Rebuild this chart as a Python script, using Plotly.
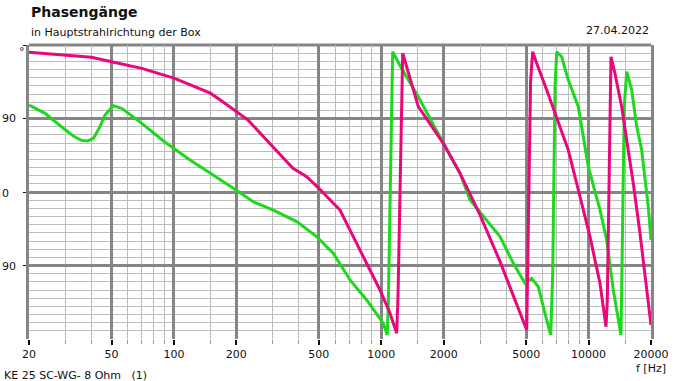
import plotly.graph_objects as go
import numpy as np

# ---- data ----
pink_f = [20, 30, 40, 50, 70, 100, 120, 150, 172, 200, 228, 300, 375, 437, 500,
          587, 632, 733, 850, 986, 1102, 1187,
          1204, 1231, 1245, 1269,
          1277, 1509, 1992, 2398, 2993, 3738, 4335, 5030,
          5080, 5150, 5250, 5376,
          5618, 6281, 7018, 7980, 9092, 10155, 11350, 12132,
          12310, 12446, 12586, 12684, 12824,
          13408, 14444, 15268, 16426, 17700, 19066, 20000]
pink_deg = [171, 167.7, 165, 159.5, 151.4, 139.5, 131, 121, 110.6, 98.3, 88, 55.5, 29, 18.8, 4.5,
            -13.8, -22, -54.7, -87.3, -120, -148.5, -173,
            -130, 0, 60, 170,
            167.7, 104.5, 59.6, 22.9, -28, -85, -128, -169,
            -100, -2, 135, 171.8,
            157.6, 124.9, 92, 51.4, -5.7, -54.7, -111.8, -165,
            -133, -60, 2, 104.4, 165.6,
            145, 104.4, 63.7, 10.6, -50.6, -120, -163]

green_f = [20, 23.9, 30, 33, 36, 38.5, 41, 44, 46.5, 51, 56, 70, 90, 100, 113, 120, 150, 167, 200,
           241, 300, 391, 453, 488, 566, 587, 707, 850, 1023, 1069,
           1081, 1093, 1102, 1123, 1135,
           1231, 1509, 1956, 2398, 2680, 2993, 3738, 4335, 4936, 5317, 5721, 6163, 6566,
           6714, 6759, 6835, 6888, 7018,
           7417, 7980, 8920, 9966, 11350, 12224, 13158, 14331,
           14444, 14700, 14864, 15268,
           16140, 17060, 18033, 19400, 20000]
green_deg = [106.5, 96.3, 75.9, 68, 63, 62.5, 66, 80, 94.3, 105.7, 102.5, 84.1, 61.6, 53, 43.2, 39, 22.9, 14.7, 2,
             -11.9, -22, -36.3, -48.6, -54.7, -71, -75, -107.7, -132.2, -160.8, -175,
             -140.4, -75, -1.6, 63.7, 171.8,
             155, 116.5, 63.7, 22.9, -9.8, -24.5, -54.7, -87.3, -111.8, -105.7, -116, -148.5, -175,
             -99.6, -18, 63.7, 129, 171.8,
             165.6, 137, 104.4, 31, -22, -58.8, -120, -175,
             -99.6, 22.9, 104.4, 147.3,
             125, 80.4, 51.4, -18, -58.8]

x_major = [20, 50, 100, 200, 500, 1000, 2000, 5000, 10000, 20000]
x_major_labels = ["20", "50", "100", "200", "500", "1000", "2000", "5000", "10000", "20000"]
x_minor = [30, 40, 60, 70, 80, 90, 150, 300, 400, 600, 700, 800, 900, 1500, 3000, 4000,
           6000, 7000, 8000, 9000, 15000]
y_major = [-90, 0, 90, 180]
y_minor = [v for v in range(-170, 180, 10) if v % 90 != 0]

title_text = "Phasengänge"
subtitle_text = "in Hauptstrahlrichtung der Box"
date_text = "27.04.2022"
footer_text = "KE 25 SC-WG- 8 Ohm   (1)"
xunit_text = "f [Hz]"

# ---- layout geometry ----
W, H = 694, 381
L, R, T, B = 29, 651, 45, 339
FONT = "DejaVu Sans"
GRID_DARK = "#858585"
GRID_LIGHT = "#bdbdbd"

def px(x):
    return (x - L) / (R - L)

def py(y):
    return (B - y) / (B - T)

fig = go.Figure()
fig.add_trace(go.Scatter(x=green_f, y=green_deg, mode="lines",
                         line=dict(color="#1ed81e", width=3), hoverinfo="skip"))
fig.add_trace(go.Scatter(x=pink_f, y=pink_deg, mode="lines",
                         line=dict(color="#e8087c", width=3), hoverinfo="skip"))

fig.update_layout(
    width=W, height=H,
    margin=dict(l=L, r=W - R, t=T, b=H - B, pad=0),
    paper_bgcolor="white", plot_bgcolor="white",
    showlegend=False,
    font=dict(family=FONT, size=11, color="#111111"),
    xaxis=dict(type="log", range=[np.log10(20), np.log10(20000)],
               tickmode="array", tickvals=x_major, ticktext=x_major_labels,
               ticks="outside", ticklen=5, tickwidth=2, tickcolor="#111111",
               showgrid=True, gridcolor=GRID_DARK, gridwidth=3,
               showline=False, zeroline=False,
               tickfont=dict(family=FONT, size=11, color="#111111"),
               minor=dict(tickmode="array", tickvals=x_minor, ticks="outside",
                          ticklen=4, tickwidth=1, tickcolor="#9a9a9a",
                          showgrid=True, gridcolor=GRID_LIGHT, gridwidth=1)),
    yaxis=dict(range=[-180, 180], tickmode="array", tickvals=y_major,
               showticklabels=False, ticks="outside", ticklen=3, tickwidth=1,
               tickcolor="#111111",
               showgrid=True, gridcolor=GRID_DARK, gridwidth=3,
               showline=True, linecolor=GRID_DARK, linewidth=3, mirror=True,
               zeroline=False,
               minor=dict(tickmode="array", tickvals=y_minor, ticks="",
                          showgrid=True, gridcolor=GRID_LIGHT, gridwidth=1)),
)

# top border
fig.add_shape(type="line", xref="paper", yref="paper", x0=0, x1=1, y0=1, y1=1,
              line=dict(color=GRID_DARK, width=3), layer="below")

ann = []
ann.append(dict(text="<b>" + title_text + "</b>", x=px(29), y=py(12), xanchor="left", yanchor="middle",
                font=dict(family=FONT, size=14, color="#111111")))
ann.append(dict(text=subtitle_text, x=px(29), y=py(32), xanchor="left", yanchor="middle",
                font=dict(family=FONT, size=11, color="#111111")))
ann.append(dict(text=date_text, x=px(651), y=py(31), xanchor="right", yanchor="middle",
                font=dict(family=FONT, size=11, color="#111111")))
ann.append(dict(text=footer_text, x=px(2), y=py(375), xanchor="left", yanchor="middle",
                font=dict(family=FONT, size=11, color="#111111")))
ann.append(dict(text=xunit_text, x=px(651), y=py(369), xanchor="center", yanchor="middle",
                font=dict(family=FONT, size=11, color="#111111")))
# y labels at the left edge
ann.append(dict(text="°", x=px(17), y=py(51), xanchor="left", yanchor="middle",
                font=dict(family=FONT, size=11, color="#111111")))
ann.append(dict(text="90", x=px(0), y=py(119), xanchor="left", yanchor="middle",
                font=dict(family=FONT, size=11, color="#111111")))
ann.append(dict(text="0", x=px(0), y=py(193), xanchor="left", yanchor="middle",
                font=dict(family=FONT, size=11, color="#111111")))
ann.append(dict(text="90", x=px(0), y=py(266), xanchor="left", yanchor="middle",
                font=dict(family=FONT, size=11, color="#111111")))
for a in ann:
    a.update(xref="paper", yref="paper", showarrow=False)
fig.update_layout(annotations=ann)

fig.write_html("out.html", config={"displayModeBar": False},
               post_script="document.body.style.margin='0';document.body.style.overflow='hidden';")
